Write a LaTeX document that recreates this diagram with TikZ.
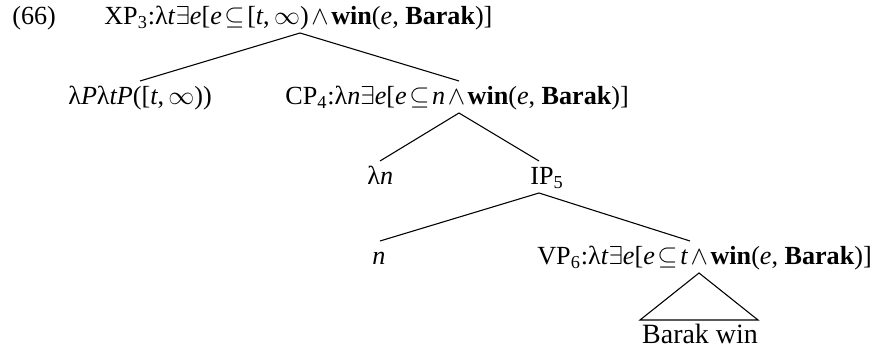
\documentclass[tikz,border=0pt]{standalone}
\usepackage{fontspec}
\setmainfont{Liberation Serif}
\usetikzlibrary{positioning}

\newcommand{\vr}[1]{\textit{#1}}
\newcommand{\wn}{\textbf{win}}
\newcommand{\bk}{\textbf{Barak}}
\newcommand{\ex}{$\exists$}
\newcommand{\opsp}{\hspace{0.1em}}
\newcommand{\sube}{\opsp$\subseteq$\opsp}
\newcommand{\conj}{\opsp$\wedge$\opsp}
\newcommand{\infy}{$\infty$}

\begin{document}
\begin{tikzpicture}[
  x=0.0195cm, y=-0.0195cm,
  lbl/.style={inner sep=0pt, anchor=base west, font=\fontsize{14.5}{17}\selectfont},
  branch/.style={line width=0.6pt},
]
  \useasboundingbox (0,0) rectangle (872,352);

  % Example number and root
  \node[lbl] (exno) at (12,25) {(66)};
  \node[lbl] (xp) at (104,25) {XP\textsubscript{3}:λ\vr{t}\ex\vr{e}[\vr{e}\sube[\vr{t},\,\infy)\conj\wn(\vr{e}, \bk)]};
  \coordinate (xp-b) at (300,33);

  % Level 1
  \node[lbl] (fn) at (68,105) {λ\vr{P}λ\vr{tP}([\vr{t},\,\infy))};
  \node[lbl] (cp) at (285,105) {CP\textsubscript{4}:λ\vr{n}\ex\vr{e}[\vr{e}\sube\vr{n}\conj\wn(\vr{e}, \bk)]};
  \coordinate (fn-t) at (140,81);
  \coordinate (cp-t) at (459,81);
  \coordinate (cp-b) at (459,113);

  % Level 2
  \node[lbl] (lam) at (367,185) {λ\vr{n}};
  \node[lbl] (ip) at (530,185) {IP\textsubscript{5}};
  \coordinate (lam-t) at (380,161);
  \coordinate (ip-t) at (539,161);
  \coordinate (ip-b) at (539,193);

  % Level 3
  \node[lbl] (n) at (372,265) {\vr{n}};
  \node[lbl] (vp) at (537,265) {VP\textsubscript{6}:λ\vr{t}\ex\vr{e}[\vr{e}\sube\vr{t}\conj\wn(\vr{e}, \bk)]};
  \coordinate (n-t) at (380,241);
  \coordinate (vp-t) at (690,241);
  \coordinate (vp-b) at (699,273);

  % Terminal string
  \node[lbl, anchor=base, font=\fontsize{15.5}{18}\selectfont] (bw) at (700,343) {Barak win};
  \coordinate (bw-l) at (640,320);
  \coordinate (bw-r) at (758,320);

  % Branches
  \draw[branch] (fn-t) -- (xp-b) -- (cp-t);
  \draw[branch] (lam-t) -- (cp-b) -- (ip-t);
  \draw[branch] (n-t) -- (ip-b) -- (vp-t);
  \draw[branch] (vp-b) -- (bw-l) -- (bw-r) -- cycle;
\end{tikzpicture}
\end{document}
